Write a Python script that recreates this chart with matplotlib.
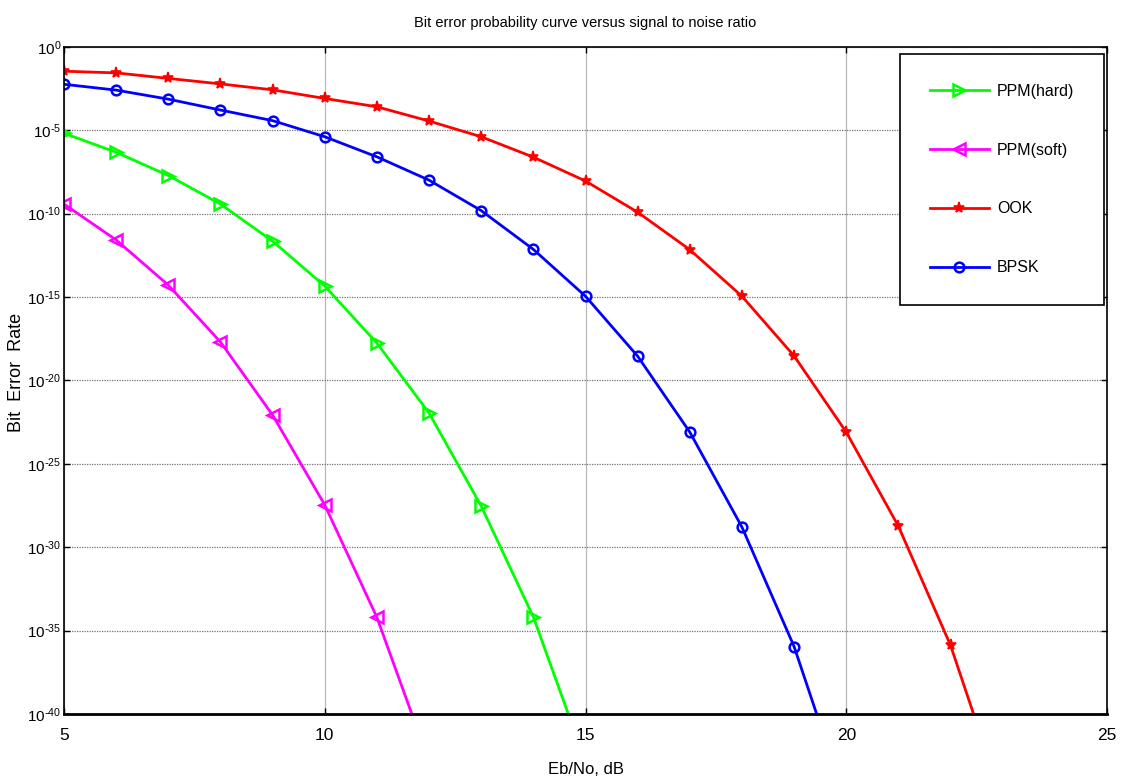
import matplotlib
matplotlib.use("Agg")
import matplotlib.pyplot as plt
import numpy as np

plt.rcParams['font.family'] = ['Liberation Sans', 'DejaVu Sans']

# Eb/No points (dB) for each scheme; the last value of each series lies below the axis floor
snr_ppm_hard = [5, 6, 7, 8, 9, 10, 11, 12, 13, 14, 15]
ber_ppm_hard = [6.5e-6, 4.7e-7, 1.9e-8, 3.7e-10, 2.2e-12, 4.5e-15, 1.7e-18,
                1.1e-22, 2.9e-28, 6.5e-35, 1.4e-43]

snr_ppm_soft = [5, 6, 7, 8, 9, 10, 11, 12]
ber_ppm_soft = [3.7e-10, 2.6e-12, 5.1e-15, 2.0e-18, 8.3e-23, 3.4e-28, 6.2e-35, 1.4e-43]

snr_ook = [5, 6, 7, 8, 9, 10, 11, 12, 13, 14, 15, 16, 17, 18, 19, 20, 21, 22, 23]
ber_ook = [3.4e-2, 2.7e-2, 1.26e-2, 5.9e-3, 2.6e-3, 7.9e-4, 2.5e-4, 3.5e-5, 4.0e-6,
           2.4e-7, 8.9e-9, 1.2e-10, 6.8e-13, 1.1e-15, 2.9e-19, 7.9e-24, 1.8e-29,
           1.3e-36, 6.3e-46]

snr_bpsk = [5, 6, 7, 8, 9, 10, 11, 12, 13, 14, 15, 16, 17, 18, 19, 20]
ber_bpsk = [5.6e-3, 2.5e-3, 7.2e-4, 1.6e-4, 3.7e-5, 4.0e-6, 2.5e-7, 1.0e-8, 1.5e-10,
            7.1e-13, 1.1e-15, 2.8e-19, 7.9e-24, 1.6e-29, 1.1e-36, 5.0e-46]

ytick_exps = [0, -5, -10, -15, -20, -25, -30, -35, -40]
xticks = [5, 10, 15, 20, 25]

fig = plt.figure(figsize=(11.25, 7.76), dpi=100)
ax = fig.add_axes([0.0569, 0.0799, 0.9271, 0.8599])

ax.semilogy(snr_ppm_hard, ber_ppm_hard, color=(0, 1, 0), lw=2, marker='>',
            ms=9, mfc='none', mew=1.8, label='PPM(hard)')
ax.semilogy(snr_ppm_soft, ber_ppm_soft, color=(1, 0, 1), lw=2, marker='<',
            ms=9, mfc='none', mew=1.8, label='PPM(soft)')
ax.semilogy(snr_ook, ber_ook, color=(1, 0, 0), lw=2, marker='*',
            ms=8, mew=1.2, label='OOK')
ax.semilogy(snr_bpsk, ber_bpsk, color=(0, 0, 1), lw=2, marker='o',
            ms=7, mfc='none', mew=1.8, label='BPSK')

ax.set_xlim(5, 25)
ax.set_ylim(1e-40, 1e0)
ax.set_xticks(xticks)
ax.set_xticklabels([str(t) for t in xticks])
ax.set_yticks([10.0 ** e for e in ytick_exps])
ax.set_yticklabels([r'$\mathregular{10^{\text{-}%d}}$' % -e if e else
                    r'$\mathregular{10^{0}}$' for e in ytick_exps])
ax.yaxis.set_minor_locator(matplotlib.ticker.NullLocator())

ax.tick_params(direction='in', length=4, width=1, top=True, right=True)
ax.tick_params(axis='x', pad=10, labelsize=12.5)
ax.tick_params(axis='y', pad=2, labelsize=11)
ax.yaxis.grid(True, color='0.45', ls=(0, (1, 1)), lw=0.9)
ax.xaxis.grid(True, color='0.72', ls='-', lw=0.9)
ax.set_axisbelow(True)
for s in ax.spines.values():
    s.set_linewidth(1.2)
ax.spines['bottom'].set_linewidth(2)

ax.set_title('Bit error probability curve versus signal to noise ratio',
             fontsize=10.5, pad=14)
ax.set_xlabel('Eb/No, dB', fontsize=12)
ax.xaxis.set_label_coords(0.5, -0.072)
ax.set_ylabel('Bit  Error  Rate', fontsize=13)
ax.yaxis.set_label_coords(-0.037, 0.512)

leg = ax.legend(loc='upper right', bbox_to_anchor=(0.997, 0.989), fontsize=11.5,
                labelspacing=2.75, borderpad=1.85, handlelength=3.7,
                handletextpad=0.5, fancybox=False, framealpha=1,
                edgecolor='black', borderaxespad=0)
leg.get_frame().set_linewidth(1.2)

fig.savefig('out.png', dpi=100)
